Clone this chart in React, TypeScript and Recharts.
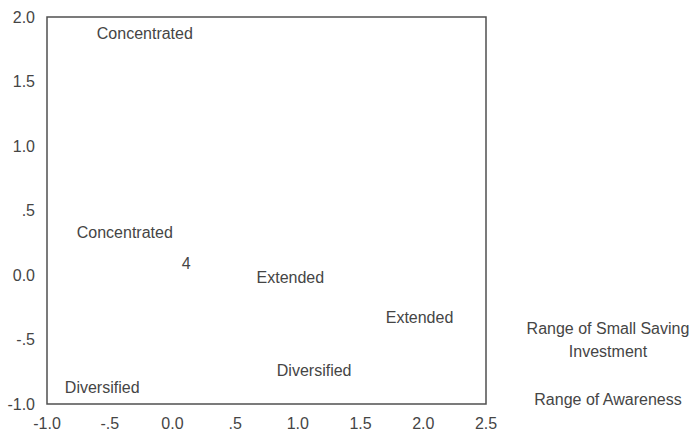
import { ScatterChart, Scatter, XAxis, YAxis, ReferenceArea } from 'recharts';

// series 1: range of small saving investment (category labels + "4")
const savingLabels = ['Concentrated', 'Extended', 'Diversified', '4'];
const savingX = [-0.22, 1.97, 1.13, 0.11];
const savingY = [1.87, -0.33, -0.74, 0.09];

// series 2: range of awareness
const awarenessLabels = ['Concentrated', 'Extended', 'Diversified'];
const awarenessX = [-0.38, 0.94, -0.56];
const awarenessY = [0.33, -0.02, -0.87];

const xTicks = [-1.0, -0.5, 0.0, 0.5, 1.0, 1.5, 2.0, 2.5];
const yTicks = [-1.0, -0.5, 0.0, 0.5, 1.0, 1.5, 2.0];

const seriesNames = ['Range of Small Saving Investment', 'Range of Awareness'];

const savingData = savingLabels.map((label, i) => ({ x: savingX[i], y: savingY[i], label }));
const awarenessData = awarenessLabels.map((label, i) => ({ x: awarenessX[i], y: awarenessY[i], label }));

const FONT = '"Liberation Sans", Arial, sans-serif';
const TEXT = '#454545';
const FS = 16;

// SPSS style: ".5", "-.5", but "0.0"
const fmt = (v: number) => {
  const s = v.toFixed(1);
  if (s === '0.0') return s;
  return s.replace(/^(-?)0\./, '$1.');
};

const LabelShape = (props: any) => (
  <text
    x={props.cx}
    y={props.cy}
    textAnchor="middle"
    dominantBaseline="central"
    fontSize={FS}
    fontFamily={FONT}
    fill={TEXT}
  >
    {props.payload.label}
  </text>
);

export default function App() {
  return (
    <div style={{ position: 'absolute', left: 0, top: 0, width: 690, height: 437, background: '#fff' }}>
      <ScatterChart width={690} height={437} margin={{ top: 17, right: 204, bottom: 8, left: 7 }}>
        <XAxis
          type="number"
          dataKey="x"
          domain={[-1, 2.5]}
          ticks={xTicks}
          tickFormatter={fmt}
          tickLine={false}
          axisLine={false}
          tickMargin={8}
          height={25}
          tick={{ fontSize: FS, fontFamily: FONT, fill: TEXT }}
        />
        <YAxis
          type="number"
          dataKey="y"
          domain={[-1, 2]}
          ticks={yTicks}
          tickFormatter={fmt}
          tickLine={false}
          axisLine={false}
          tickMargin={6}
          width={40}
          tick={{ fontSize: FS, fontFamily: FONT, fill: TEXT }}
        />
        <ReferenceArea x1={-1} x2={2.5} y1={-1} y2={2} fill="none" stroke="#505050" strokeWidth={1.5} />
        <Scatter name={seriesNames[0]} data={savingData} shape={LabelShape} isAnimationActive={false} />
        <Scatter name={seriesNames[1]} data={awarenessData} shape={LabelShape} isAnimationActive={false} />
      </ScatterChart>
      <div
        style={{
          position: 'absolute',
          left: 522,
          top: 317,
          width: 172,
          fontFamily: FONT,
          fontSize: FS,
          color: TEXT,
          textAlign: 'center',
        }}
      >
        <div style={{ lineHeight: '23px' }}>
          Range of Small Saving
          <br />
          Investment
        </div>
        <div style={{ marginTop: 25, lineHeight: '23px' }}>{seriesNames[1]}</div>
      </div>
    </div>
  );
}
